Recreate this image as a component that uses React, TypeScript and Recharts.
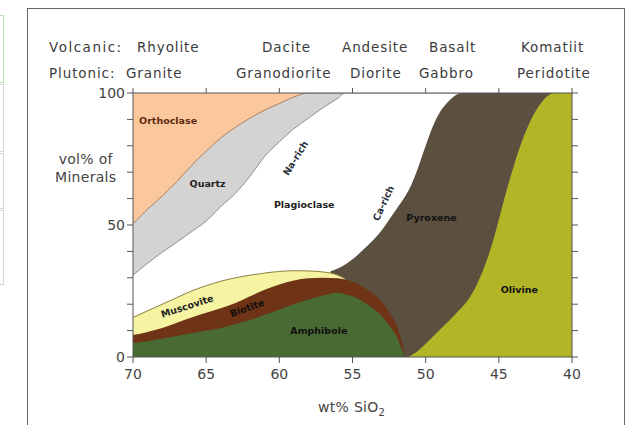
import React from "react";
import {
  ComposedChart,
  Area,
  XAxis,
  YAxis,
  ReferenceDot,
} from "recharts";

// upper boundary of each mineral field (cumulative vol%), read against wt% SiO2
const orthoclaseSiO2 = [70, 58, 55];
const orthoclaseTop = [100, 100, 100];

const quartzSiO2 = [70, 69, 68, 67, 66, 65, 64, 63, 62, 61, 60, 59, 58, 55];
const quartzTop = [50.5, 56, 61, 66.5, 72.5, 78, 83, 87, 90.5, 93.5, 96, 98.5, 100, 100];

const plagSiO2 = [70, 69, 68, 67, 66, 65, 64, 63, 62, 61, 60, 59, 58, 57, 56, 55.5, 47];
const plagTop = [31, 35.5, 39.7, 43.5, 47.5, 51.5, 57, 62, 68.5, 76, 81.5, 86.5, 90.5, 94.5, 98, 100, 100];

const pyroxeneSiO2 = [56.5, 56, 55, 54, 53, 52.5, 52, 51.5, 51, 50.5, 50, 49.5, 49, 48.5, 48, 47.5, 40];
const pyroxeneTop = [32.5, 33.5, 37, 42, 48, 52, 56, 60, 65, 72, 80, 87.5, 93, 96.5, 99, 100, 100];

const olivineSiO2 = [51.2, 50.5, 50, 49, 48, 47, 46.5, 46, 45.5, 45, 44.5, 44, 43.5, 43, 42.5, 42, 41.5, 41.2, 40];
const olivineTop = [0, 2.5, 5, 10.5, 16, 22.5, 27.5, 34, 42, 52, 62.5, 72, 80.5, 87.5, 93, 97, 99.5, 100, 100];

const muscoviteSiO2 = [70, 69, 68, 67, 66, 65, 64, 63, 62, 61, 60, 59, 58, 57, 56.5, 56, 55.5];
const muscoviteTop = [15, 17.5, 20, 22.5, 25, 27, 28.7, 30, 31, 31.8, 32.4, 32.7, 32.6, 32.2, 31.8, 31, 29.6];

const biotiteSiO2 = [70, 69, 68, 67, 66, 65, 64, 63, 62, 61, 60, 59, 58, 57, 56, 55, 54, 53, 52.5, 52, 51.7, 51.4];
const biotiteTop = [8.3, 9.5, 11, 13, 15, 16.8, 18.5, 20.5, 23, 25.5, 27.5, 29, 29.8, 30, 29.8, 28.5, 25.5, 21, 17, 12, 7, 0];

const amphiboleSiO2 = [70, 69, 68, 67, 66, 65, 64, 63, 62, 61, 60, 59, 58, 57, 56, 55.5, 55, 54, 53, 52.5, 52, 51.7, 51.4];
const amphiboleTop = [5.3, 6, 7, 8, 9, 10, 11, 12.5, 14, 16, 18, 20, 21.8, 23.3, 24.3, 23.8, 23, 20, 15.5, 12, 8, 4, 0];

const xTicks = [70, 65, 60, 55, 50, 45, 40];
const yTicks = [0, 10, 20, 30, 40, 50, 60, 70, 80, 90, 100];
const yLabels = [0, 50, 100];

const volcanic = [
  { name: "Rhyolite", left: 137 },
  { name: "Dacite", left: 262 },
  { name: "Andesite", left: 342 },
  { name: "Basalt", left: 429 },
  { name: "Komatiit", left: 521 },
];
const plutonic = [
  { name: "Granite", left: 126 },
  { name: "Granodiorite", left: 236 },
  { name: "Diorite", left: 350 },
  { name: "Gabbro", left: 419 },
  { name: "Peridotite", left: 517 },
];

const layers = [
  { key: "orthoclase", xs: orthoclaseSiO2, ys: orthoclaseTop, fill: "#fbc79d", stroke: "none" },
  { key: "quartz", xs: quartzSiO2, ys: quartzTop, fill: "#d3d3d3", stroke: "#a9805f" },
  { key: "plagioclase", xs: plagSiO2, ys: plagTop, fill: "#ffffff", stroke: "#8f8f8f" },
  { key: "pyroxene", xs: pyroxeneSiO2, ys: pyroxeneTop, fill: "#5b4f40", stroke: "none" },
  { key: "olivine", xs: olivineSiO2, ys: olivineTop, fill: "#b2b526", stroke: "none" },
  { key: "muscovite", xs: muscoviteSiO2, ys: muscoviteTop, fill: "#f6f3a2", stroke: "#8a8040" },
  { key: "biotite", xs: biotiteSiO2, ys: biotiteTop, fill: "#6f3315", stroke: "none" },
  { key: "amphibole", xs: amphiboleSiO2, ys: amphiboleTop, fill: "#4a6a34", stroke: "none" },
];

// merge every boundary into one table, sorted from 70 down to 40
const allX = Array.from(new Set(layers.flatMap((l) => l.xs))).sort((a, b) => b - a);
const data = allX.map((x) => {
  const row: Record<string, number> = { sio2: x };
  layers.forEach((l) => {
    const i = l.xs.indexOf(x);
    if (i >= 0) row[l.key] = l.ys[i];
  });
  return row;
});

const labels = [
  { text: "Orthoclase", x: 67.6, y: 89.4, rot: 0, color: "#5a2a10" },
  { text: "Quartz", x: 64.9, y: 65.9, rot: 0, color: "#222" },
  { text: "Na-rich", x: 58.9, y: 75.4, rot: -58, color: "#2a2f3a" },
  { text: "Plagioclase", x: 58.3, y: 57.6, rot: 0, color: "#222" },
  { text: "Ca-rich", x: 52.9, y: 58.3, rot: -65, color: "#2a2f3a" },
  { text: "Pyroxene", x: 49.6, y: 53, rot: 0, color: "#111" },
  { text: "Muscovite", x: 66.3, y: 19.3, rot: -18, color: "#222" },
  { text: "Biotite", x: 62.2, y: 18.6, rot: -20, color: "#111" },
  { text: "Amphibole", x: 57.3, y: 10.2, rot: 0, color: "#111" },
  { text: "Olivine", x: 43.6, y: 25.4, rot: 0, color: "#111" },
];

const font = "'DejaVu Sans', sans-serif";

const MineralLabel = (props: any) => {
  const { viewBox, txt, rot, clr } = props;
  const cx = viewBox.x + (viewBox.width || 0) / 2;
  const cy = viewBox.y + (viewBox.height || 0) / 2;
  return (
    <text
      x={cx}
      y={cy}
      transform={`rotate(${rot} ${cx} ${cy})`}
      textAnchor="middle"
      dominantBaseline="central"
      fontSize={9.5}
      fontWeight="bold"
      fontFamily={font}
      fill={clr}
    >
      {txt}
    </text>
  );
};

const YTick = (props: any) => {
  const { x, y, payload } = props;
  if (!yLabels.includes(payload.value)) return <g />;
  return (
    <text x={x} y={y} dy={5} textAnchor="end" fontSize={14} fontFamily={font} fill="#444">
      {payload.value}
    </text>
  );
};

const NoLabel = () => <g />;

const headText: React.CSSProperties = {
  position: "absolute",
  fontFamily: font,
  fontSize: 13.5,
  letterSpacing: 0.9,
  color: "#3c3c3c",
  whiteSpace: "nowrap",
  lineHeight: "16px",
};

export default function App() {
  return (
    <div style={{ position: "absolute", left: 0, top: 0, width: 641, height: 425, background: "#fff", overflow: "hidden" }}>
      {/* bits of the neighbouring page on the left */}
      <div style={{ position: "absolute", left: -8, top: 15, width: 10, height: 66, border: "1px solid #b9e0b0" }} />
      <div style={{ position: "absolute", left: -8, top: 84, width: 10, height: 66, border: "1px solid #d6d6d6" }} />
      <div style={{ position: "absolute", left: -8, top: 153, width: 10, height: 54, border: "1px solid #d6d6d6" }} />
      <div style={{ position: "absolute", left: -8, top: 210, width: 10, height: 73, border: "1px solid #d6d6d6" }} />

      {/* picture frame */}
      <div style={{ position: "absolute", left: 27, top: 8, width: 596, height: 440, border: "1.5px solid #666" }} />

      <div style={{ ...headText, left: 49, top: 39, letterSpacing: 1.5 }}>Volcanic:</div>
      <div style={{ ...headText, left: 49, top: 65, letterSpacing: 0.9 }}>Plutonic:</div>
      {volcanic.map((v) => (
        <div key={v.name} style={{ ...headText, left: v.left, top: 39 }}>{v.name}</div>
      ))}
      {plutonic.map((p) => (
        <div key={p.name} style={{ ...headText, left: p.left, top: 65 }}>{p.name}</div>
      ))}

      <div style={{ ...headText, left: 55, top: 150, fontSize: 14, letterSpacing: 0.3, color: "#444", lineHeight: "18px", textAlign: "center" }}>
        vol% of
        <br />
        Minerals
      </div>

      <div style={{ ...headText, left: 318, top: 399, fontSize: 14, letterSpacing: 0.3, color: "#444" }}>
        wt% SiO<sub style={{ fontSize: 10 }}>2</sub>
      </div>

      <div style={{ position: "absolute", left: 0, top: 0 }}>
        <ComposedChart
          width={641}
          height={425}
          data={data}
          margin={{ top: 83, right: 59, bottom: 38, left: 93 }}
        >
          <XAxis
            dataKey="sio2"
            type="number"
            domain={[40, 70]}
            reversed
            ticks={xTicks}
            allowDataOverflow
            height={30}
            tickSize={6}
            tickMargin={6}
            stroke="#555"
            tick={{ fontSize: 14, fontFamily: font, fill: "#444" }}
          />
          <XAxis
            xAxisId="top"
            orientation="top"
            dataKey="sio2"
            type="number"
            domain={[40, 70]}
            reversed
            ticks={xTicks}
            allowDataOverflow
            height={10}
            tickSize={5}
            stroke="#555"
            tick={<NoLabel />}
          />
          <YAxis
            type="number"
            domain={[0, 100]}
            ticks={yTicks}
            allowDataOverflow
            width={40}
            tickSize={6}
            stroke="#555"
            tick={<YTick />}
          />
          <YAxis
            yAxisId="right"
            orientation="right"
            type="number"
            domain={[0, 100]}
            ticks={yTicks}
            allowDataOverflow
            width={10}
            tickSize={6}
            stroke="#555"
            tick={<NoLabel />}
          />
          {layers.map((l) => (
            <Area
              key={l.key}
              dataKey={l.key}
              type="monotone"
              connectNulls
              fill={l.fill}
              fillOpacity={1}
              stroke={l.stroke}
              strokeWidth={1}
              isAnimationActive={false}
              dot={false}
              activeDot={false}
            />
          ))}
          {labels.map((m) => (
            <ReferenceDot
              key={m.text}
              x={m.x}
              y={m.y}
              r={0}
              fill="none"
              stroke="none"
              label={<MineralLabel txt={m.text} rot={m.rot} clr={m.color} />}
            />
          ))}
        </ComposedChart>
      </div>
    </div>
  );
}
